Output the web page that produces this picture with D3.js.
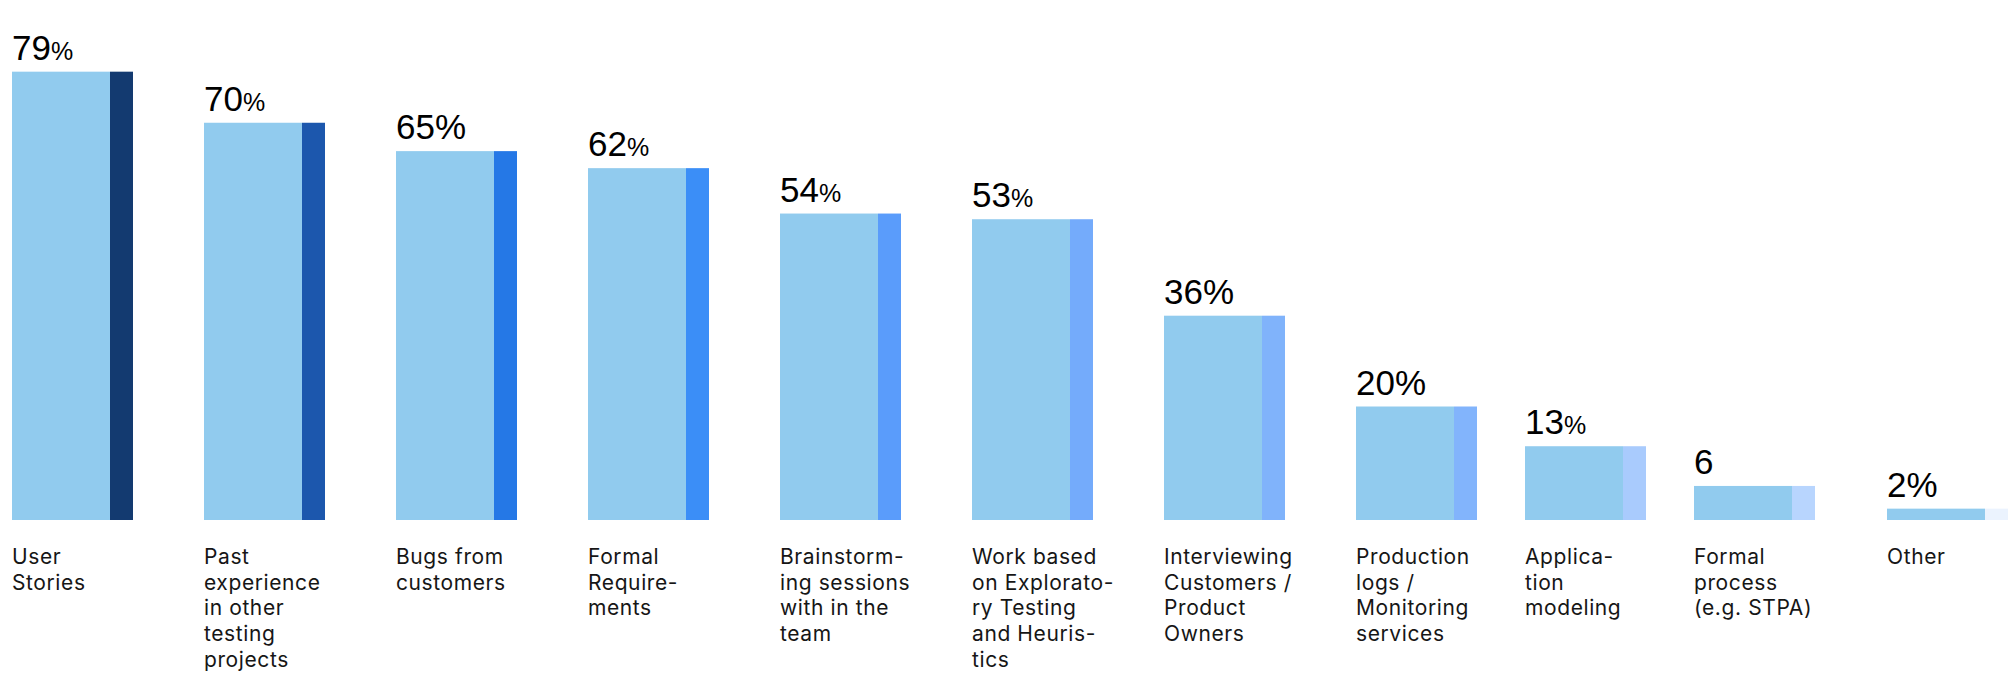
<!DOCTYPE html>
<html>
<head>
<meta charset="utf-8">
<script src="https://cdn.jsdelivr.net/npm/d3@7"></script>
<style>
  body { margin: 0; background: #fff; }
  svg { display: block; }
  .cat { font-family: Inter, "Open Sans", sans-serif; font-size: 21px; letter-spacing: 0.6px; fill: #161616; }
  .val { font-family: "Liberation Sans", Arial, sans-serif; font-size: 35px; fill: #000; }
</style>
</head>
<body>
<svg id="chart" width="2014" height="676"></svg>
<script>
// categories, with the line breaks used in the picture
var categories = [
  ["User", "Stories"],
  ["Past", "experience", "in other", "testing", "projects"],
  ["Bugs from", "customers"],
  ["Formal", "Require-", "ments"],
  ["Brainstorm-", "ing sessions", "with in the", "team"],
  ["Work based", "on Explorato-", "ry Testing", "and Heuris-", "tics"],
  ["Interviewing", "Customers /", "Product", "Owners"],
  ["Production", "logs /", "Monitoring", "services"],
  ["Applica-", "tion", "modeling"],
  ["Formal", "process", "(e.g. STPA)"],
  ["Other"]
];
var values = [79, 70, 65, 62, 54, 53, 36, 20, 13, 6, 2];
var valueLabels = ["79", "70", "65", "62", "54", "53", "36", "20", "13", "6", "2"];
var accentColors = ["#133a70", "#1c57ad", "#2578e6", "#3b8ef7", "#5a9cfb", "#74abfb",
                    "#80b3fb", "#82b4fc", "#a9cbfd", "#b8d5fe", "#ebf3fe"];

// labels where the % sign is set smaller
var smallPct = [0, 1, 3, 4, 5, 8];

var svg = d3.select("#chart");

// the last bars sit a bit closer together in the original
var x = d3.scaleLinear()
    .domain([0, 7, 9, 10])
    .range([12, 1356, 1694, 1887]);

var y = d3.scaleLinear()
    .domain([0, 80])
    .range([520, 66]);

var lightW = 98, darkW = 23;

var bar = svg.selectAll("g.bar")
    .data(values)
    .enter().append("g")
    .attr("class", "bar")
    .attr("transform", function(d, i) { return "translate(" + x(i) + ",0)"; });

bar.append("rect")
    .attr("x", 0)
    .attr("y", function(d) { return y(d); })
    .attr("width", lightW)
    .attr("height", function(d) { return y(0) - y(d); })
    .attr("fill", "#91cbee");

bar.append("rect")
    .attr("x", lightW)
    .attr("y", function(d) { return y(d); })
    .attr("width", darkW)
    .attr("height", function(d) { return y(0) - y(d); })
    .attr("fill", function(d, i) { return accentColors[i]; });

var val = bar.append("text")
    .attr("class", "val")
    .attr("x", 0)
    .attr("y", function(d) { return y(d) - 12; });

val.append("tspan")
    .text(function(d, i) { return valueLabels[i]; });

val.append("tspan")
    .style("font-size", function(d, i) { return smallPct.indexOf(i) >= 0 ? "25px" : "35px"; })
    .text(function(d, i) { return i == 9 ? "" : "%"; });

var cat = bar.append("text")
    .attr("class", "cat")
    .attr("y", 564);

cat.selectAll("tspan")
    .data(function(d, i) { return categories[i]; })
    .enter().append("tspan")
    .attr("x", 0)
    .attr("dy", function(d, j) { return j == 0 ? 0 : 25.7; })
    .text(function(d) { return d; });
</script>
</body>
</html>
